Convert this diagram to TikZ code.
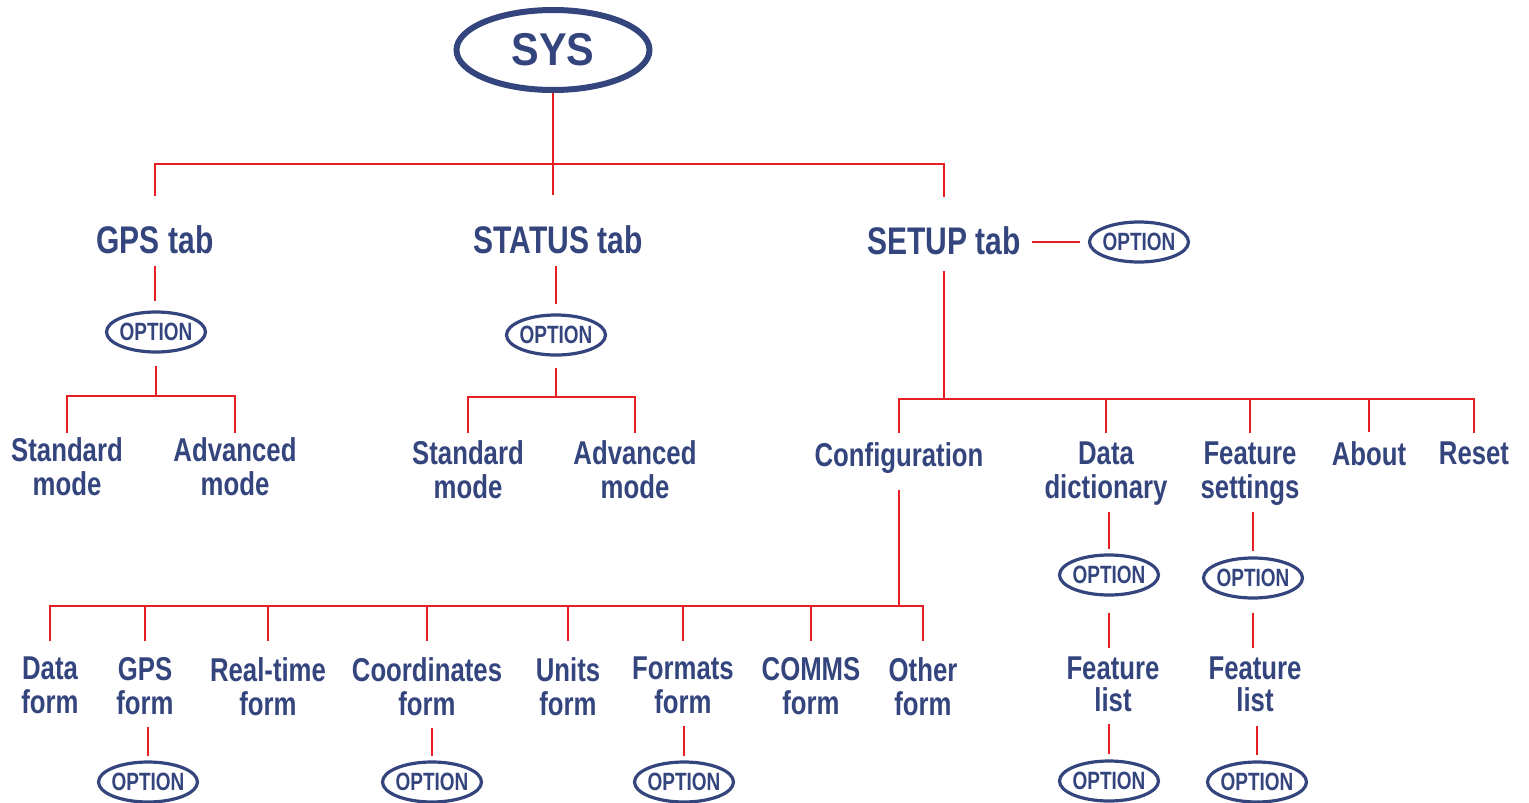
\documentclass[tikz,border=0pt]{standalone}
\usepackage{fontspec}
\newfontfamily\condfont[FakeStretch=0.78]{Liberation Sans}
\newfontfamily\optfont[FakeStretch=0.76]{Liberation Sans}
\newfontfamily\sysfont[FakeStretch=0.9]{Liberation Sans}
\definecolor{navy}{RGB}{52,69,126}
\definecolor{wire}{RGB}{232,30,38}
\usetikzlibrary{shapes.geometric}

\begin{document}
\begin{tikzpicture}[x=1pt, y=-1pt,
    lbl/.style={text=navy, font=\condfont\bfseries\fontsize{33}{34}\selectfont, align=center, inner sep=0pt, anchor=north},
    tab/.style={lbl, font=\condfont\bfseries\fontsize{38.5}{40}\selectfont},
    opt/.style={ellipse, draw=navy, line width=3.2pt, minimum width=99pt, minimum height=40pt,
      inner xsep=-5pt, inner ysep=0pt, text=navy, font=\optfont\bfseries\fontsize{25}{25}\selectfont},
    link/.style={draw=wire, line width=1.2pt}]
  \useasboundingbox (0,0) rectangle (1529,803);

  \node[ellipse, draw=navy, line width=6pt, minimum width=193pt, minimum height=80pt, text=navy,
    font=\sysfont\bfseries\fontsize{46}{46}\selectfont] (sys) at (553,50) {SYS};

  % tabs
  \node[tab] (gps) at (155,225) {GPS tab};
  \node[tab] (status) at (558,225) {STATUS tab};
  \node[tab] (setup) at (944,226) {SETUP tab};
  \node[opt] (gpsopt) at (156,332) {OPTION};
  \node[opt] (statusopt) at (556,335) {OPTION};
  \node[opt] (setupopt) at (1139,242) {OPTION};

  \coordinate (bus1) at (553,164);
  \coordinate (bus2) at (156,396);
  \coordinate (bus2b) at (556,397);
  \coordinate (bus3) at (944,399);
  \coordinate (bus4) at (899,606);

  \node[lbl] (gpsstd) at (67,437) {Standard\\mode};
  \node[lbl] (gpsadv) at (235,437) {Advanced\\mode};
  \node[lbl] (stastd) at (468,440) {Standard\\mode};
  \node[lbl] (staadv) at (635,440) {Advanced\\mode};

  \node[lbl] (config) at (899,442) {Configuration};
  \node[lbl] (datadict) at (1106,442) {Data\\dictionary};
  \node[lbl] (featset) at (1250,442) {Feature\\settings};
  \node[lbl] (about) at (1369,441) {About};
  \node[lbl] (reset) at (1474,442) {Reset};

  \node[lbl] (dataform) at (50,657) {Data\\form};
  \node[lbl] (gpsform) at (145,657) {GPS\\form};
  \node[lbl] (rtform) at (268,657) {Real-time\\form};
  \node[lbl] (coordform) at (427,657) {Coordinates\\form};
  \node[lbl] (unitsform) at (568,657) {Units\\form};
  \node[lbl] (fmtform) at (683,657) {Formats\\form};
  \node[lbl] (commsform) at (811,657) {COMMS\\form};
  \node[lbl] (otherform) at (923,657) {Other\\form};
  \node[opt] (gpsfopt) at (148,782) {OPTION};
  \node[opt] (coordfopt) at (432,782) {OPTION};
  \node[opt] (fmtfopt) at (684,782) {OPTION};

  \node[opt] (ddopt) at (1109,575) {OPTION};
  \node[lbl, font=\condfont\bfseries\fontsize{33}{32}\selectfont] (flist1) at (1113,657) {Feature\\list};
  \node[opt] (fl1opt) at (1109,781) {OPTION};
  \node[opt] (fsopt) at (1253,578) {OPTION};
  \node[lbl, font=\condfont\bfseries\fontsize{33}{32}\selectfont] (flist2) at (1255,657) {Feature\\list};
  \node[opt] (fl2opt) at (1257,782) {OPTION};

  % connectors
  \draw[link, shorten >=30pt] (sys.south) -- (sys.south |- status.north);
  \draw[link, shorten <=29pt, shorten >=29pt] (gps.north) |- (bus1) -| (setup.north);

  \draw[link, shorten <=12pt, shorten >=9pt] (gps.south) -- (gps.south |- gpsopt.north);
  \draw[link, shorten <=12pt, shorten >=9pt] (statusopt.north |- status.south) -- (statusopt.north);
  \draw[link, shorten <=11pt, shorten >=8pt] (setup.east |- setupopt.west) -- (setupopt.west);

  \draw[link, shorten <=12pt] (gpsopt.south) -- (gpsopt.south |- bus2);
  \draw[link, shorten <=4pt, shorten >=4pt] (gpsstd.north) |- (bus2) -| (gpsadv.north);
  \draw[link, shorten <=11pt] (statusopt.south) -- (statusopt.south |- bus2b);
  \draw[link, shorten <=7pt, shorten >=7pt] (stastd.north) |- (bus2b) -| (staadv.north);

  \draw[link, shorten <=16pt] (setup.south) -- (setup.south |- bus3);
  \draw[link, shorten <=9pt, shorten >=9pt] (config.north) |- (bus3) -| (reset.north);
  \foreach \n in {datadict, featset, about}
    \draw[link, shorten >=9pt] (\n.north |- bus3) -- (\n.north);

  \draw[link, shorten <=17pt] (config.south) -- (config.south |- bus4);
  \draw[link, shorten <=16pt, shorten >=16pt] (dataform.north) |- (bus4) -| (otherform.north);
  \foreach \n in {gpsform, rtform, coordform, unitsform, fmtform, commsform}
    \draw[link, shorten >=16pt] (\n.north |- bus4) -- (\n.north);
  \foreach \a/\b in {gpsform/gpsfopt, coordform/coordfopt, fmtform/fmtfopt}
    \draw[link, shorten <=12pt, shorten >=4pt] (\b.north |- \a.south) -- (\b.north);

  \draw[link, shorten <=6pt, shorten >=4pt] (ddopt.north |- datadict.south) -- (ddopt.north);
  \draw[link, shorten <=16pt, shorten >=9pt] (ddopt.south) -- (ddopt.south |- flist1.north);
  \draw[link, shorten <=12pt, shorten >=5pt] (fl1opt.north |- flist1.south) -- (fl1opt.north);
  \draw[link, shorten <=6pt, shorten >=5pt] (fsopt.north |- featset.south) -- (fsopt.north);
  \draw[link, shorten <=13pt, shorten >=9pt] (fsopt.south) -- (fsopt.south |- flist2.north);
  \draw[link, shorten <=14pt, shorten >=5pt] (fl2opt.north |- flist2.south) -- (fl2opt.north);
\end{tikzpicture}
\end{document}
